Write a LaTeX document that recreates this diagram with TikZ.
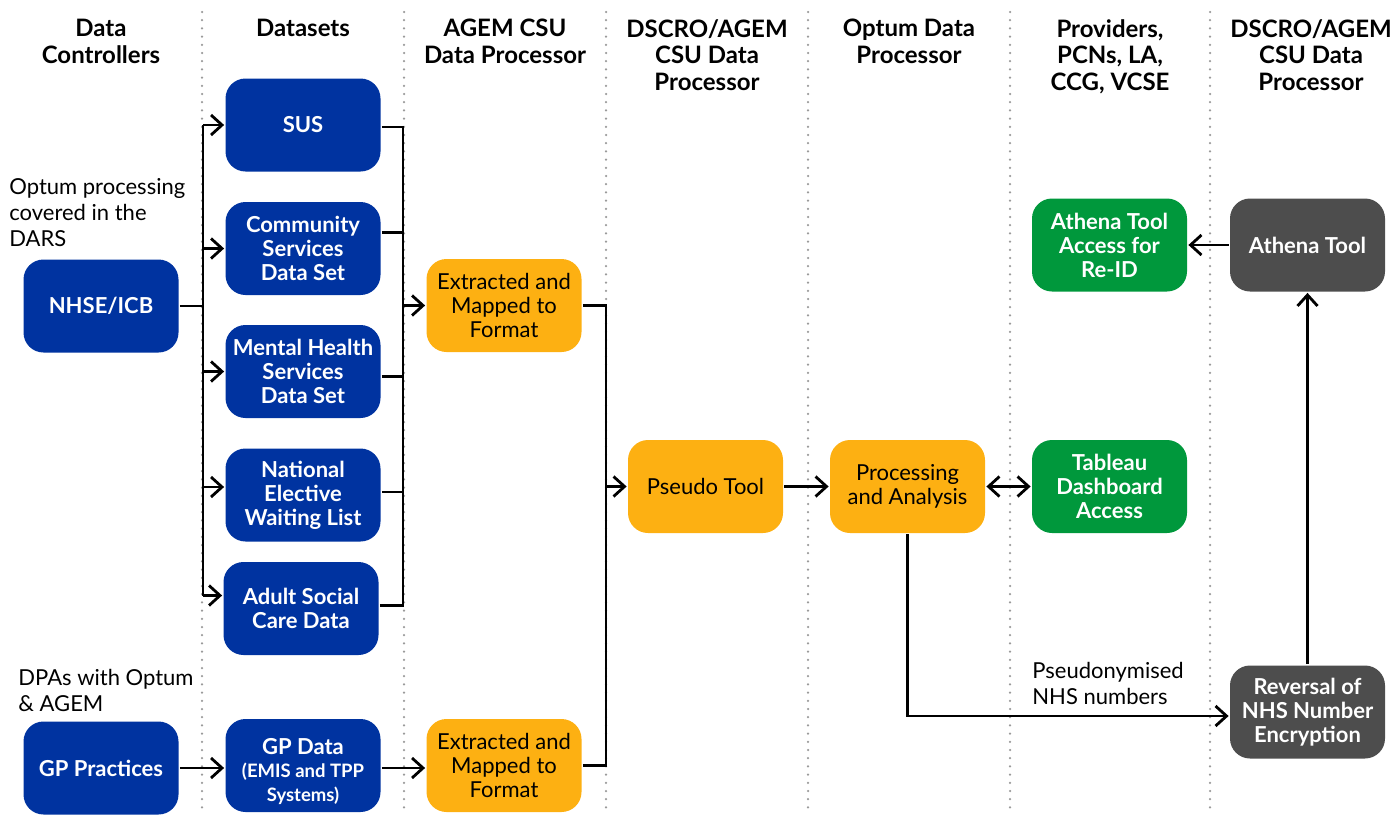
\documentclass[tikz,border=0pt]{standalone}
\usepackage{fontspec}
\setmainfont{Lato}
\usepackage{tikz}
\usetikzlibrary{arrows.meta,positioning}
\definecolor{nhsblue}{HTML}{0033A0}
\definecolor{optumorange}{HTML}{FDB012}
\definecolor{accessgreen}{HTML}{00983C}
\definecolor{csugrey}{HTML}{4D4D4D}
\definecolor{dotgrey}{HTML}{9A9A9A}

\begin{document}
\begin{tikzpicture}[x=1pt, y=-1pt, line width=2.8pt,
    >={Straight Barb[length=11pt,width=20pt]},
    box/.style={rectangle, rounded corners=20pt, minimum width=155pt,
      minimum height=93pt, inner sep=0pt, align=center,
      font=\fontsize{22}{24}\selectfont},
    head/.style={anchor=north, align=center, inner sep=0pt,
      font=\fontsize{24}{26.5}\selectfont\bfseries},
    note/.style={anchor=north west, align=left, inner sep=0pt,
      font=\fontsize{22}{26}\selectfont}]
   \useasboundingbox (0,0) rectangle (1397,814);
   % column separators
   \foreach \x in {202,404,606,808,1010,1210}
    \draw[dotgrey, line width=2.5pt, line cap=round, dash pattern=on 0pt off 8.2pt] (\x,12) -- (\x,814);
   % column heads
   \node[head] (h1) at (101,18) {Data\\Controllers};
   \node[head] (h2) at (303,18) {Datasets};
   \node[head] (h3) at (505,18) {AGEM CSU\\Data Processor};
   \node[head] (h4) at (707,18) {DSCRO/AGEM\\CSU Data\\Processor};
   \node[head] (h5) at (909,18) {Optum Data\\Processor};
   \node[head] (h6) at (1110,18) {Providers,\\PCNs, LA,\\CCG, VCSE};
   \node[head] (h7) at (1311,18) {DSCRO/AGEM\\CSU Data\\Processor};
   % notes
   \node[note] (n1) at (8,177) {Optum processing\\covered in the\\DARS};
   \node[note] (n2) at (17,668) {DPAs with Optum\\\& AGEM};
   \node[note] (n3) at (1031,661) {Pseudonymised\\NHS numbers};
   \begin{scope}[every node/.style={box, fill=nhsblue, text=white, font=\fontsize{22}{24}\selectfont\bfseries}]
    \node (nhse) at (101,306) {NHSE/ICB};
    \node (gpp) at (101,768) {GP Practices};
    \node (sus) at (303,125) {SUS};
    \node (csds) at (303,248.5) {Community\\Services\\Data Set};
    \node (mhsds) at (303,371.5) {Mental Health\\Services\\Data Set};
    \node (newl) at (303,495) {National\\Elective\\Waiting List};
    \node (ascd) at (301,608.5) {Adult Social\\Care Data};
    \node (gpd) at (303,765.5) {\rule{0pt}{28pt}GP Data\\[-1pt]{\fontsize{18.5}{19}\selectfont (EMIS and TPP}\\{\fontsize{18.5}{19}\selectfont Systems)}};
   \end{scope}
   \begin{scope}[every node/.style={box, fill=optumorange, text=black}]
    \node (ext1) at (504,305.5) {Extracted and\\Mapped to\\Format};
    \node (ext2) at (504,765.5) {Extracted and\\Mapped to\\Format};
    \node (pseudo) at (705.5,486.5) {Pseudo Tool};
    \node (proc) at (907.5,486.5) {Processing\\and Analysis};
   \end{scope}
   \begin{scope}[every node/.style={box, fill=accessgreen, text=white, font=\fontsize{22}{24}\selectfont\bfseries}]
    \node (reid) at (1109.5,245) {Athena Tool\\Access for\\Re-ID};
    \node (tab) at (1109.5,486.5) {Tableau\\Dashboard\\Access};
   \end{scope}
   \begin{scope}[every node/.style={box, fill=csugrey, text=white, font=\fontsize{22}{24}\selectfont\bfseries}]
    \node (athena) at (1307.5,245) {Athena Tool};
    \node (rev) at (1307.5,712) {Reversal of\\NHS Number\\Encryption};
   \end{scope}
   % bus junctions and offset ports
   \coordinate (lb) at (203,306);
   \coordinate (rb) at (403,305.5);
   \coordinate (pb) at (606,486.5);
   \coordinate (newl-in) at ([yshift=8pt]newl.west);
   \coordinate (ascd-in) at ([yshift=13pt]ascd.west);
   \coordinate (sus-out) at ([yshift=-2pt]sus.east);
   \coordinate (csds-out) at ([yshift=16pt]csds.east);
   \coordinate (mhsds-out) at ([yshift=-5pt]mhsds.east);
   \coordinate (newl-out) at ([yshift=3pt]newl.east);
   \coordinate (ascd-out) at ([yshift=3pt]ascd.east);
   \coordinate (gpd-out) at ([yshift=-2.5pt]gpd.east);
   \coordinate (rev-in) at ([yshift=-4pt]rev.west);
   \begin{scope}[every edge/.style={draw=black, line width=2.8pt}]
    \draw (nhse) -- (lb);
    \draw (lb |- sus.west) -- (lb |- ascd-in);
    \draw[->] (lb |- sus.west) -- (sus.west);
    \draw[->] (lb |- csds.west) -- (csds.west);
    \draw[->] (lb |- mhsds.west) -- (mhsds.west);
    \draw[->] (lb |- newl-in) -- (newl-in);
    \draw[->] (lb |- ascd-in) -- (ascd-in);
    \draw (sus-out) -| (rb);
    \draw (csds-out) -- (rb |- csds-out);
    \draw (mhsds-out) -- (rb |- mhsds-out);
    \draw (newl-out) -- (rb |- newl-out);
    \draw (ascd-out) -| (rb);
    \draw[->] (rb) -- (ext1.west);
    \draw[->] (gpp) -- (gpp -| gpd.west);
    \draw[->] (gpd-out) -- (gpd-out -| ext2.west);
    \draw (ext1.east) -| (pb);
    \draw (ext2.east) -| (pb);
    \draw[->] (pb) -- (pseudo.west);
    \draw[->] (pseudo) -- (proc);
    \draw[<->] (proc) -- (tab);
    \draw[->] (proc.south) |- (rev-in);
    \draw[->] (rev) -- (athena);
    \draw[->] (athena) -- (reid);
   \end{scope}
\end{tikzpicture}
\end{document}
